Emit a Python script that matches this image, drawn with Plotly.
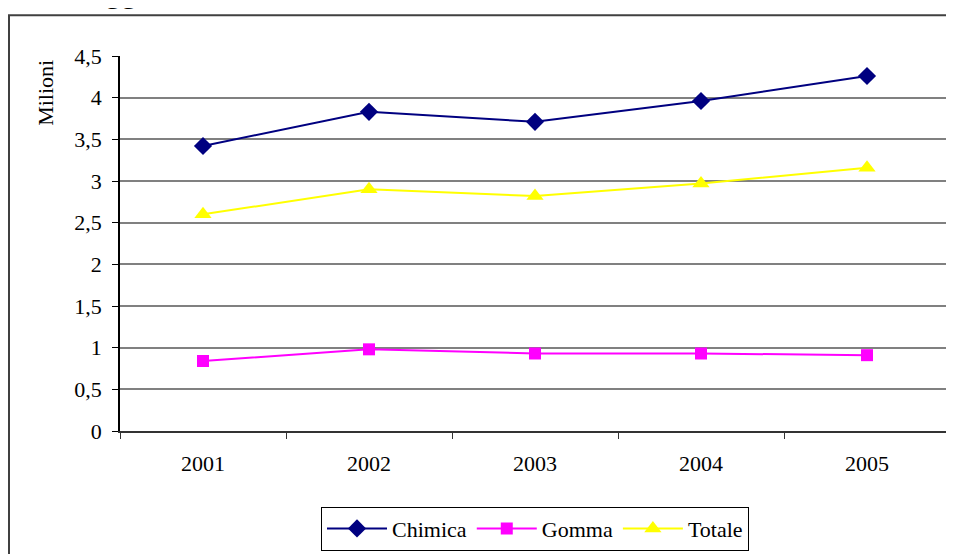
import plotly.graph_objects as go

years = ["2001", "2002", "2003", "2004", "2005"]
chimica = [3.42, 3.83, 3.71, 3.96, 4.26]
gomma = [0.84, 0.98, 0.93, 0.93, 0.91]
totale = [2.60, 2.90, 2.82, 2.97, 3.16]
y_ticks = [0, 0.5, 1, 1.5, 2, 2.5, 3, 3.5, 4, 4.5]
y_tick_labels = ["0", "0,5", "1", "1,5", "2", "2,5", "3", "3,5", "4", "4,5"]

FONT = "Liberation Serif, Times New Roman, serif"
W, H = 954, 554
OFF = 8  # page body margin offset
# desired page-pixel plot area: x 120..950, y 56..433
L = 120 - OFF
T = 56 - OFF
R = W - (950 - OFF)
B = H - (433 - OFF)
pw, ph = W - L - R, H - T - B

def px(x):
    return (x - OFF - L) / pw

def py(y):
    return (H - B - (y - OFF)) / ph

fig = go.Figure()
fig.add_trace(go.Scatter(x=years, y=chimica, name="Chimica", mode="lines+markers",
                         line=dict(color="#000080", width=2),
                         marker=dict(symbol="diamond", size=14, color="#000080")))
fig.add_trace(go.Scatter(x=years, y=gomma, name="Gomma", mode="lines+markers",
                         line=dict(color="#FF00FF", width=2),
                         marker=dict(symbol="square", size=12, color="#FF00FF")))
fig.add_trace(go.Scatter(x=years, y=totale, name="Totale", mode="lines+markers",
                         line=dict(color="#FFFF00", width=2),
                         marker=dict(symbol="triangle-up", size=15, color="#FFFF00")))

fig.update_layout(
    width=W, height=H,
    margin=dict(l=L, r=R, t=T, b=B),
    paper_bgcolor="white", plot_bgcolor="white",
    font=dict(family=FONT, size=22, color="black"),
    showlegend=True,
    legend=dict(orientation="h", x=px(535), xanchor="center", y=py(509), yanchor="top",
                bordercolor="black", borderwidth=1, bgcolor="white",
                font=dict(family=FONT, size=22), itemwidth=60, tracegroupgap=0),
    xaxis=dict(type="category", range=[-0.5, 4.5], showgrid=False,
               showline=True, linecolor="#333333", linewidth=2,
               ticks="outside", tickson="boundaries", ticklen=6, tickcolor="#333333",
               tickwidth=1, ticklabelstandoff=12, tickfont=dict(family=FONT, size=22)),
    yaxis=dict(range=[0, 4.5], tickvals=y_ticks, ticktext=y_tick_labels,
               showgrid=True, gridcolor="#808080", gridwidth=1.5,
               zeroline=False, showline=True, linecolor="black", linewidth=1.5,
               ticks="outside", ticklen=6, tickcolor="black", ticklabelstandoff=6,
               tickfont=dict(family=FONT, size=22)),
    shapes=[
        dict(type="line", xref="paper", yref="paper", x0=1, x1=1, y0=0, y1=1,
             line=dict(color="#999999", width=2)),
        dict(type="rect", xref="paper", yref="paper", x0=px(9), x1=px(970),
             y0=py(570), y1=py(15), line=dict(color="#404040", width=2),
             layer="below"),
    ],
    annotations=[
        dict(text="Milioni", textangle=-90, xref="paper", yref="paper",
             x=px(46), y=py(93), xanchor="center", yanchor="middle",
             showarrow=False, font=dict(family=FONT, size=22)),
        dict(text="ggi", xref="paper", yref="paper", x=px(125), y=py(11),
             xanchor="center", yanchor="bottom", showarrow=False,
             font=dict(family=FONT, size=32)),
    ],
)

fig.write_html("out.html")
